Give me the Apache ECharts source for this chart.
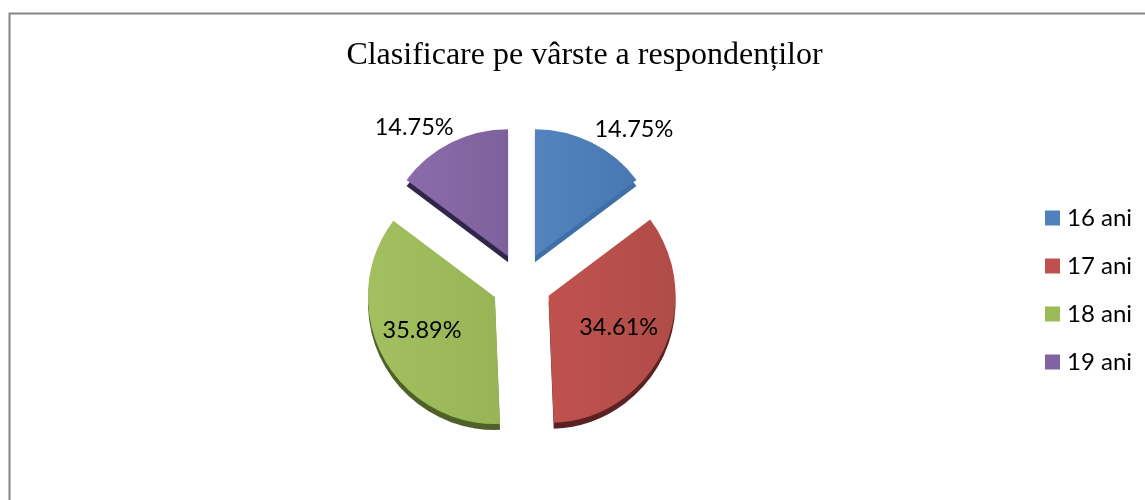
<!DOCTYPE html>
<html lang="ro">
<head>
    <meta charset="UTF-8">
    <title>Clasificare pe vârste</title>
    <style>
        html, body { margin: 0; padding: 0; background: #fff; }
        #ec { width: 1145px; height: 500px; }
    </style>
    <script src="https://cdn.jsdelivr.net/npm/echarts@6/dist/echarts.min.js"></script>
</head>
<body>
<div id="ec"></div>
<script>
    var titleText = 'Clasificare pe vârste a respondenților';
    var categories = ['16 ani', '17 ani', '18 ani', '19 ani'];
    var values = [14.75, 34.61, 35.89, 14.75];
    var faceColors = [['#5384bf', '#4778b2'], ['#c0524e', '#b04c48'], ['#a2c05f', '#97b556'], ['#8a6caa', '#7d619c']];
    var legendColors = ['#4f81bd', '#c0504d', '#9bbb59', '#8064a2'];
    var edgeColors = ['#3f6fa6', '#5a2222', '#4f6128', '#30254a'];

    var cx = 521.5, cy = 283, radius = 127;

    function pieData(colorOf, labelled) {
        return categories.map(function (name, i) {
            var inside = i === 1 || i === 2;
            return {
                name: name,
                value: values[i],
                selected: true,
                itemStyle: { color: colorOf(i) },
                label: { show: labelled, position: inside ? 'inside' : 'outside' }
            };
        });
    }

    var myChart = echarts.init(document.getElementById('ec'), null, { renderer: 'canvas' });
    myChart.setOption({
        animation: false,
        backgroundColor: '#fff',
        title: {
            text: titleText,
            left: 579.5,
            top: 35,
            textAlign: 'center',
            textStyle: { fontFamily: 'Liberation Serif', fontSize: 32, fontWeight: 'normal', color: '#000' }
        },
        legend: {
            orient: 'vertical',
            left: 1040,
            top: 201,
            itemWidth: 15,
            itemHeight: 15,
            itemGap: 24,
            icon: 'rect',
            data: categories.map(function (name, i) {
                return { name: name, itemStyle: { color: legendColors[i], borderWidth: 0 } };
            }),
            textStyle: { fontFamily: 'Lato', fontSize: 24, color: '#000', padding: [0, 0, 0, 2] }
        },
        graphic: [
            {
                type: 'polyline',
                silent: true,
                shape: { points: [[9.5, 510], [9.5, 13.5], [1155, 13.5]] },
                style: { fill: null, stroke: '#868686', lineWidth: 2 }
            }
        ],
        series: [
            {
                type: 'pie',
                z: 2,
                radius: radius,
                center: [cx, cy],
                startAngle: 90,
                clockwise: true,
                selectedMode: 'multiple',
                selectedOffset: 30,
                label: {
                    formatter: '{c}%',
                    fontFamily: 'Lato',
                    fontSize: 23.5,
                    color: '#000'
                },
                labelLine: { show: false },
                labelLayout: function (params) {
                    var moves = [{ dx: -39, dy: 0 }, { dx: 10, dy: 3 }, { dx: -14, dy: 3 }, { dx: 44, dy: -2 }];
                    return moves[params.dataIndex];
                },
                data: pieData(function (i) {
                    return {
                        type: 'linear', x: 0, y: 0, x2: 1, y2: 0,
                        colorStops: [
                            { offset: 0, color: faceColors[i][0] },
                            { offset: 1, color: faceColors[i][1] }
                        ]
                    };
                }, true)
            },
            {
                // side wall of the slices: same pie pushed down a few px
                type: 'pie',
                silent: true,
                z: 1,
                radius: radius,
                center: [cx, cy + 6],
                startAngle: 90,
                clockwise: true,
                selectedMode: 'multiple',
                selectedOffset: 30,
                legendHoverLink: false,
                labelLine: { show: false },
                tooltip: { show: false },
                data: pieData(function (i) { return edgeColors[i]; }, false)
            }
        ]
    });
</script>
</body>
</html>
